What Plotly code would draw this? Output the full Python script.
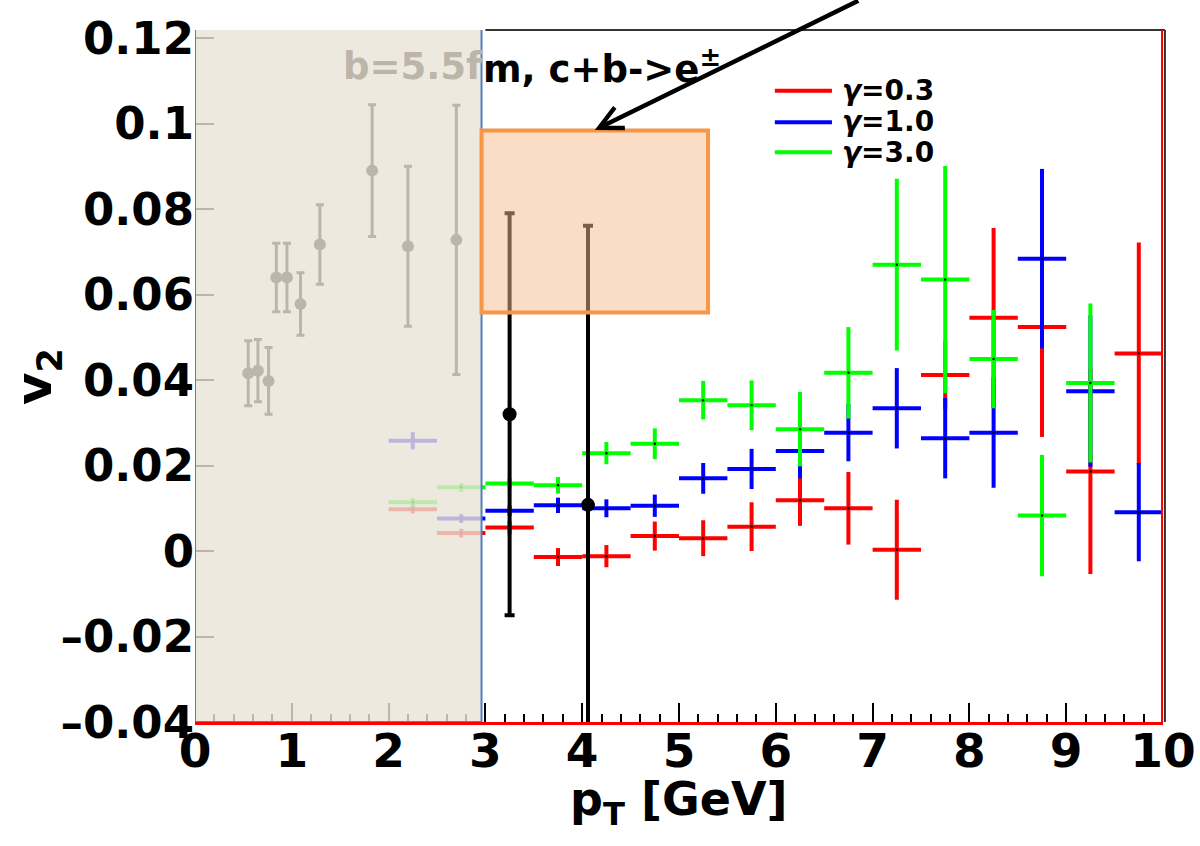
import plotly.graph_objects as go

# ---------------- data ----------------
pt_bins = [2.25, 2.75, 3.25, 3.75, 4.25, 4.75, 5.25, 5.75, 6.25, 6.75, 7.25, 7.75, 8.25, 8.75, 9.25, 9.75]
bin_half_width = [0.25] * len(pt_bins)

v2_g03 = [0.0098, 0.0042, 0.0055, -0.0014, -0.0012, 0.0035, 0.0030, 0.0057, 0.0119, 0.0100, 0.0003, 0.0412, 0.0546, 0.0524, 0.0186, 0.0462]
err_g03 = [0.0010, 0.0010, 0.0015, 0.0021, 0.0026, 0.0034, 0.0042, 0.0057, 0.0060, 0.0085, 0.0117, 0.0080, 0.0210, 0.0257, 0.0240, 0.0260]

v2_g10 = [0.0258, 0.0076, 0.0094, 0.0107, 0.0100, 0.0106, 0.0170, 0.0192, 0.0234, 0.0277, 0.0334, 0.0264, 0.0277, 0.0684, 0.0374, 0.0091]
err_g10 = [0.0020, 0.0010, 0.0012, 0.0018, 0.0021, 0.0026, 0.0036, 0.0047, 0.0064, 0.0067, 0.0094, 0.0094, 0.0129, 0.0210, 0.0177, 0.0115]

v2_g30 = [0.0114, 0.0149, 0.0158, 0.0154, 0.0229, 0.0251, 0.0353, 0.0341, 0.0285, 0.0417, 0.0670, 0.0635, 0.0449, 0.0083, 0.0393, None]
err_g30 = [0.0010, 0.0010, 0.0012, 0.0019, 0.0026, 0.0036, 0.0045, 0.0058, 0.0087, 0.0107, 0.0201, 0.0266, 0.0115, 0.0142, 0.0186, 0.0]

series_names = ["γ=0.3", "γ=1.0", "γ=3.0"]
series_colors = ["#ff0000", "#0000ff", "#00ff00"]

# experimental points (black)
exp_pt = [3.25, 4.06]
exp_v2 = [0.032, 0.0108]
exp_err = [0.047, 0.0653]

# faded points in the pasted inset
inset_pt = [0.55, 0.65, 0.76, 0.84, 0.95, 1.09, 1.29, 1.83, 2.20, 2.70]
inset_v2 = [0.0416, 0.0422, 0.0398, 0.0640, 0.0640, 0.0578, 0.0717, 0.0890, 0.0713, 0.0728]
inset_err = [0.0076, 0.0073, 0.0078, 0.0080, 0.0080, 0.0073, 0.0093, 0.0154, 0.0187, 0.0315]

x_ticks = list(range(0, 11))
y_ticks = [-0.04, -0.02, 0.0, 0.02, 0.04, 0.06, 0.08, 0.10, 0.12]
y_ticktext = ["–0.04", "–0.02", "0", "0.02", "0.04", "0.06", "0.08", "0.1", "0.12"]

FONT = "DejaVu Sans"

# ---------------- figure ----------------
fig = go.Figure()

for name, col, yv, ye in zip(series_names, series_colors,
                             [v2_g03, v2_g10, v2_g30], [err_g03, err_g10, err_g30]):
    fig.add_trace(go.Scatter(
        x=pt_bins, y=yv, mode="markers", name=name, showlegend=False,
        marker=dict(size=2.5, color="black"),
        error_x=dict(type="data", array=bin_half_width, color=col, thickness=4, width=0),
        error_y=dict(type="data", array=ye, color=col, thickness=4, width=0),
    ))

# inset points (faded by the overlay box)
fig.add_trace(go.Scatter(
    x=inset_pt, y=inset_v2, mode="markers", showlegend=False,
    marker=dict(size=12, color="black"),
    error_y=dict(type="data", array=inset_err, color="black", thickness=3, width=4),
))

# black experimental points
fig.add_trace(go.Scatter(
    x=exp_pt, y=exp_v2, mode="markers", showlegend=False,
    marker=dict(size=14, color="black"),
    error_y=dict(type="data", array=exp_err, color="black", thickness=4, width=5),
))

y_lo, y_hi = -0.04, 0.1219

shapes = [
    # pasted beige inset
    dict(type="rect", xref="x", yref="y", x0=0.0, x1=2.96, y0=-0.04, y1=0.1233,
         fillcolor="rgba(234,228,214,0.8)", line=dict(color="#4f81bd", width=2), layer="above"),
    # orange highlight box
    dict(type="rect", xref="x", yref="y", x0=2.96, x1=5.30, y0=0.0558, y1=0.0984,
         fillcolor="rgba(247,186,140,0.5)", line=dict(color="#f79646", width=4), layer="above"),
    # frame: top black, right red + black
    dict(type="line", xref="paper", yref="paper", x0=0.3, x1=1.002, y0=1, y1=1,
         line=dict(color="#333333", width=2), layer="above"),
    dict(type="line", xref="paper", yref="paper", x0=1.002, x1=1.002, y0=0, y1=1,
         line=dict(color="#333333", width=2), layer="above"),
    dict(type="line", xref="x", yref="paper", x0=9.99, x1=9.99, y0=0, y1=1,
         line=dict(color="#ff0000", width=2), layer="above"),
]

# legend lines
leg_y = [0.1077, 0.1003, 0.0933]
for col, ly in zip(series_colors, leg_y):
    shapes.append(dict(type="line", xref="x", yref="y", x0=5.99, x1=6.58, y0=ly, y1=ly,
                       line=dict(color=col, width=4), layer="above"))

def px_to_paper_x(px):
    return (px - 195) / 968.0

def px_to_paper_y(py):
    return (722 - py) / 692.0

annotations = []
# legend text
for name, py in zip(series_names, [90, 121, 152]):
    annotations.append(dict(
        xref="paper", yref="paper", x=px_to_paper_x(842), y=px_to_paper_y(py),
        xanchor="left", yanchor="middle", showarrow=False,
        text="<i>γ</i>" + name[1:], font=dict(family=FONT, size=28, color="black", weight=700),
        borderpad=0, borderwidth=0))

# top label split by the inset edge
annotations.append(dict(
    xref="paper", yref="paper", x=px_to_paper_x(483), y=px_to_paper_y(66),
    xanchor="right", yanchor="middle", showarrow=False, text="b=5.5f",
    font=dict(family=FONT, size=37, color="rgb(188,182,170)", weight=700),
    borderpad=0, borderwidth=0))
annotations.append(dict(
    xref="paper", yref="paper", x=px_to_paper_x(483), y=px_to_paper_y(66),
    xanchor="left", yanchor="middle", showarrow=False, text="m, c+b->e<sup>±</sup>",
    font=dict(family=FONT, size=37, color="black", weight=700),
    borderpad=0, borderwidth=0))

# axis titles
annotations.append(dict(
    xref="paper", yref="paper", x=px_to_paper_x(679), y=px_to_paper_y(802),
    xanchor="center", yanchor="middle", showarrow=False, text="p<sub>T</sub> [GeV]",
    font=dict(family=FONT, size=46, color="black", weight=700)))
annotations.append(dict(
    xref="paper", yref="paper", x=px_to_paper_x(38), y=px_to_paper_y(377),
    xanchor="center", yanchor="middle", showarrow=False, text="v<sub>2</sub>", textangle=-90,
    font=dict(family=FONT, size=50, color="black", weight=700)))

# arrow
annotations.append(dict(
    xref="x", yref="y", x=4.13, y=0.0985, ax=265, ay=-140, text="",
    showarrow=True, arrowhead=5, arrowsize=1, arrowwidth=4.5, arrowcolor="black", standoff=0))

fig.update_layout(
    width=1200, height=846, autosize=False,
    margin=dict(l=195, r=37, t=30, b=124, autoexpand=False),
    paper_bgcolor="white", plot_bgcolor="white",
    shapes=shapes, annotations=annotations, showlegend=False,
)

fig.update_xaxes(
    range=[0, 10], tickmode="linear", tick0=0, dtick=1, automargin=False,
    ticks="inside", ticklen=19, tickwidth=2, tickcolor="black",
    minor=dict(ticks="inside", ticklen=8, tickwidth=1.5, tickcolor="black", dtick=0.2, tick0=0),
    showline=True, linecolor="#ff0000", linewidth=3,
    showgrid=False, zeroline=False, ticklabelstandoff=-14,
    tickfont=dict(family=FONT, size=47, color="black", weight=700),
)
fig.update_yaxes(
    range=[y_lo, y_hi], tickmode="array", tickvals=y_ticks, ticktext=y_ticktext,
    automargin=False,
    ticks="inside", ticklen=19, tickwidth=2, tickcolor="black",
    showline=False, showgrid=False, zeroline=False,
    tickfont=dict(family=FONT, size=45, color="black", weight=700),
)

fig.write_html("out.html")
